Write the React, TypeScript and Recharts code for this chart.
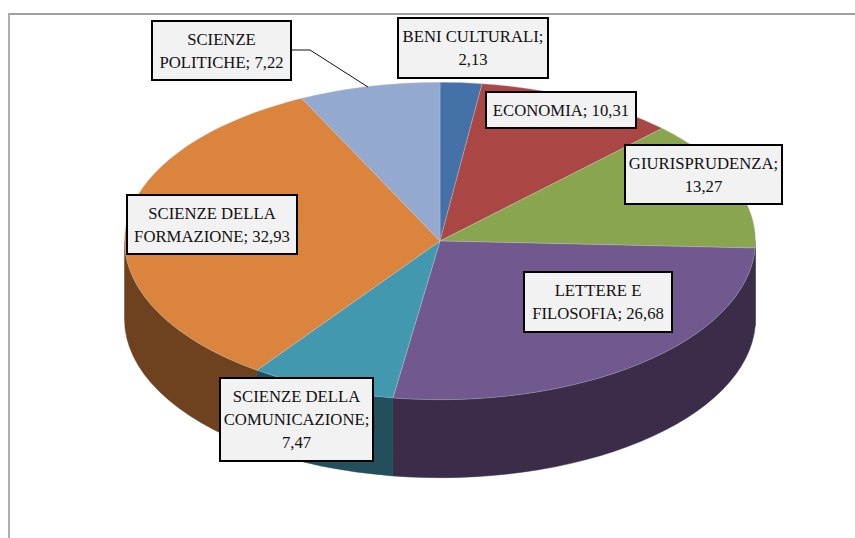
import React from "react";
import { PieChart, Pie, Cell } from "recharts";

const categories = ["BENI CULTURALI", "ECONOMIA", "GIURISPRUDENZA", "LETTERE E FILOSOFIA", "SCIENZE DELLA COMUNICAZIONE", "SCIENZE DELLA FORMAZIONE", "SCIENZE POLITICHE"];
const values = [2.13, 10.31, 13.27, 26.68, 7.47, 32.93, 7.22];
const topColors = ["#4472A8", "#AA4643", "#89A54E", "#71588F", "#4198AF", "#DB843D", "#93A9CF"];
const wallColors = ["#29445f", "#662a28", "#52632f", "#3B2C4A", "#234F5C", "#6F421F", "#58657c"];
const labelLines = [
  ["BENI CULTURALI;", "2,13"],
  ["ECONOMIA; 10,31"],
  ["GIURISPRUDENZA;", "13,27"],
  ["LETTERE E", "FILOSOFIA; 26,68"],
  ["SCIENZE DELLA", "COMUNICAZIONE;", "7,47"],
  ["SCIENZE DELLA", "FORMAZIONE; 32,93"],
  ["SCIENZE", "POLITICHE; 7,22"],
];
// label boxes: x0, y0, x1, y1
const labelBoxes = [
  [398, 18, 548, 78],
  [486, 92, 636, 128],
  [625, 145, 782, 204],
  [524, 272, 672, 332],
  [220, 378, 373, 461],
  [127, 195, 297, 254],
  [152, 21, 291, 80],
];
const leaderPoints = "291,50 310,50 368,87";
const data = categories.map((name, i) => ({ name, value: values[i] }));

const W = 855, H = 538, CX = 440, CY = 241, R = 315.5, RATIO = 0.503, DEPTH = 78;
const rad = (a: number) => (a * Math.PI) / 180;
const px = (cx: number, a: number, r: number) => cx + r * Math.cos(rad(a));
const py = (cy: number, a: number, r: number) => cy - r * RATIO * Math.sin(rad(a));

function TopSector(p: any) {
  const { cx, cy, outerRadius: r, startAngle: s, endAngle: e, fill } = p;
  const large = Math.abs(s - e) > 180 ? 1 : 0;
  const d = `M${cx},${cy} L${px(cx, s, r)},${py(cy, s, r)} A${r},${r * RATIO} 0 ${large} 1 ${px(cx, e, r)},${py(cy, e, r)} Z`;
  return <path d={d} fill={fill} stroke="#c8cdd8" strokeOpacity={0.55} strokeWidth={0.6} strokeLinejoin="round" />;
}

function WallSector(p: any) {
  const { cx, cy, outerRadius: r, startAngle: s0, endAngle: e0, fill } = p;
  const s = Math.min(s0, 0);
  const e = Math.max(e0, -180);
  if (s <= e) return <g />;
  const d = `M${px(cx, s, r)},${py(cy, s, r)} A${r},${r * RATIO} 0 0 1 ${px(cx, e, r)},${py(cy, e, r)} L${px(cx, e, r)},${py(cy, e, r) + DEPTH} A${r},${r * RATIO} 0 0 0 ${px(cx, s, r)},${py(cy, s, r) + DEPTH} Z`;
  return <path d={d} fill={fill} stroke={fill} strokeWidth={0.5} />;
}

function BoxLabel(p: any) {
  const i = p.index;
  const [x0, y0, x1, y1] = labelBoxes[i];
  const lines = labelLines[i];
  const mx = (x0 + x1) / 2;
  const my = (y0 + y1) / 2;
  return (
    <g>
      {i === 6 && <polyline points={leaderPoints} fill="none" stroke="#111" strokeWidth={1} />}
      <rect x={x0} y={y0} width={x1 - x0} height={y1 - y0} fill="#F2F2F2" stroke="#000" strokeWidth={2} />
      {lines.map((t, k) => (
        <text key={k} x={mx} y={my + 5.5 + (k - (lines.length - 1) / 2) * 23} textAnchor="middle" fontFamily="'Liberation Serif', serif" fontSize={16.7} fill="#111">
          {t}
        </text>
      ))}
    </g>
  );
}

export default function App() {
  return (
    <div style={{ position: "absolute", left: 0, top: 0, width: W, height: H, overflow: "hidden", background: "#fff" }}>
      <div style={{ position: "absolute", left: 8, top: 13, width: W, height: H, borderLeft: "2px solid #b0b0b0", borderTop: "2px solid #a0a0a0" }} />
      <div style={{ position: "absolute", left: 0, top: 0 }}>
        <PieChart width={W} height={H} margin={{ top: 0, right: 0, bottom: 0, left: 0 }}>
          <Pie data={data} dataKey="value" nameKey="name" cx={CX} cy={CY} innerRadius={0} outerRadius={R} startAngle={90} endAngle={-270} paddingAngle={0} stroke="none" shape={WallSector} isAnimationActive={false} label={false} labelLine={false}>
            {data.map((d, i) => <Cell key={d.name} fill={wallColors[i]} />)}
          </Pie>
          <Pie data={data} dataKey="value" nameKey="name" cx={CX} cy={CY} innerRadius={0} outerRadius={R} startAngle={90} endAngle={-270} paddingAngle={0} stroke="none" shape={TopSector} isAnimationActive={false} label={BoxLabel} labelLine={false}>
            {data.map((d, i) => <Cell key={d.name} fill={topColors[i]} />)}
          </Pie>
        </PieChart>
      </div>
    </div>
  );
}
